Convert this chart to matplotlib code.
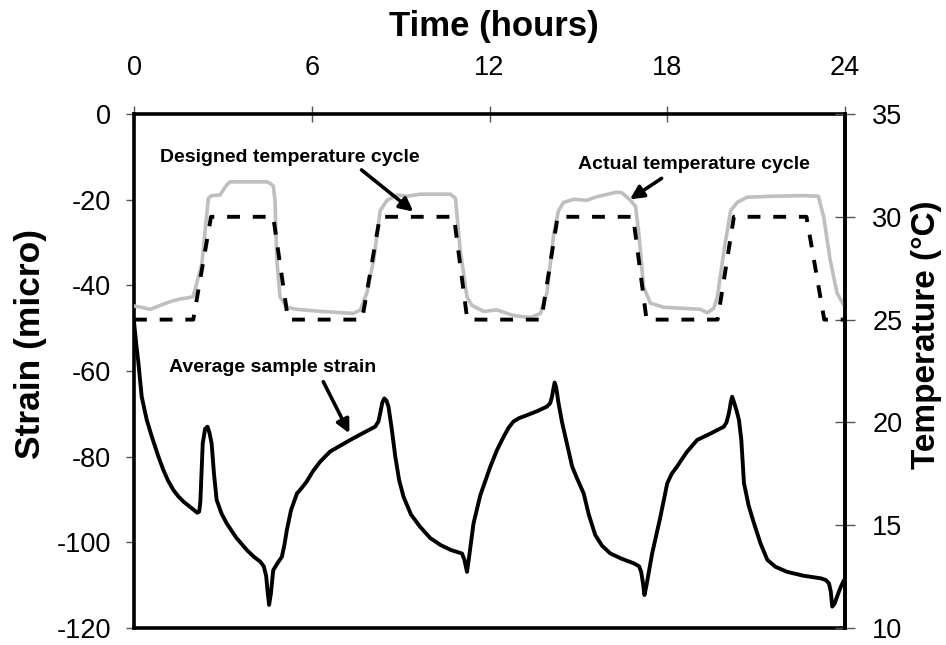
import matplotlib
matplotlib.use("Agg")
import matplotlib.pyplot as plt

plt.rcParams['font.family'] = ['Liberation Sans', 'DejaVu Sans']
plt.rcParams['axes.unicode_minus'] = False

# ---- data ----
time_ticks = [0, 6, 12, 18, 24]
strain_ticks = [0, -20, -40, -60, -80, -100, -120]
temp_ticks = [35, 30, 25, 20, 15, 10]

design_time = [0, 2.0, 2.6, 4.7, 5.2, 7.7, 8.3, 10.8, 11.25, 13.75, 14.3,
               16.85, 17.3, 19.7, 20.25, 22.7, 23.3, 24]
design_temp = [25, 25, 30, 30, 25, 25, 30, 30, 25, 25, 30, 30, 25, 25, 30, 30, 25, 25]

actual_time = [0.0, 0.25, 0.54, 0.9, 1.22, 1.55, 1.98, 2.03, 2.29, 2.51, 2.62, 2.9,
               3.13, 3.24, 4.48, 4.6, 4.7, 4.76, 4.82, 4.93, 5.16, 5.5, 6.28, 7.4, 7.64,
               7.86, 8.09, 8.31, 8.54, 8.88, 9.21, 9.66, 10.68, 10.85, 11.01, 11.24,
               11.4, 11.8, 12.25, 12.81, 13.38, 13.72, 13.94, 14.17, 14.33, 14.5,
               14.84, 15.29, 15.63, 16.3, 16.47, 16.76, 16.93, 17.04, 17.2, 17.43,
               17.88, 19.12, 19.35, 19.57, 19.69, 19.92, 20.14, 20.36, 20.7, 21.49,
               22.6, 23.1, 23.28, 23.5, 23.73, 23.96]
actual_temp = [25.66, 25.6, 25.5, 25.7, 25.87, 26.0, 26.1, 26.3, 27.7, 30.9, 31.03,
               31.06, 31.55, 31.7, 31.7, 31.62, 31.5, 30.8, 27.9, 26.1, 25.6, 25.5, 25.4,
               25.3, 25.47, 26.3, 27.9, 30.3, 30.8, 31.06, 31.0, 31.1, 31.1, 30.9,
               28.4, 26.1, 25.7, 25.4, 25.47, 25.2, 25.1, 25.3, 26.3, 29.2, 30.3,
               30.7, 30.85, 30.8, 30.98, 31.2, 31.17, 30.8, 30.5, 29.2, 26.6, 25.8,
               25.6, 25.5, 25.33, 25.55, 26.1, 28.4, 30.3, 30.7, 30.95, 31.0, 31.03,
               31.0, 30.0, 27.9, 26.3, 25.7]

strain_time = [0.0, 0.08, 0.15, 0.26, 0.43, 0.6, 0.8, 0.99, 1.15, 1.33, 1.5, 1.67,
               1.89, 2.05, 2.14, 2.2, 2.24, 2.28, 2.32, 2.4, 2.48, 2.55, 2.62, 2.7,
               2.79, 2.95, 3.13, 3.45, 3.81, 4.05, 4.26, 4.38, 4.46, 4.51, 4.56, 4.62,
               4.7, 4.85, 4.99, 5.08, 5.16, 5.3, 5.5, 5.65, 5.83, 6.05, 6.28, 6.62,
               7.0, 7.3, 7.7, 8.14, 8.25, 8.31, 8.38, 8.45, 8.52, 8.59, 8.7, 8.82,
               8.95, 9.1, 9.35, 9.66, 10.0, 10.34, 10.7, 11.07, 11.15, 11.24, 11.3,
               11.46, 11.69, 12.03, 12.25, 12.48, 12.65, 12.81, 13.0, 13.27, 13.6,
               13.94, 14.05, 14.11, 14.16, 14.2, 14.25, 14.33, 14.45, 14.61, 14.79,
               14.95, 15.18, 15.35, 15.57, 15.8, 16.08, 16.45, 16.87, 17.05, 17.12,
               17.18, 17.23, 17.3, 17.49, 17.77, 18.0, 18.15, 18.33, 18.65, 19.01,
               19.46, 19.91, 20.0, 20.08, 20.14, 20.19, 20.25, 20.35, 20.42, 20.5,
               20.59, 20.75, 20.93, 21.15, 21.38, 21.65, 22.05, 22.6, 23.18, 23.35,
               23.46, 23.52, 23.57, 23.65, 23.73, 23.85, 23.94, 24.0]
strain_val = [-48.5, -54.0, -58.2, -66.0, -71.4, -75.3, -79.5, -83.1, -85.6, -87.8,
              -89.3, -90.5, -91.7, -92.6, -93.1, -92.8, -90.5, -84.0, -76.9, -73.5,
              -73.0, -74.5, -76.9, -84.0, -90.1, -93.2, -95.6, -98.9, -101.8, -103.4,
              -104.5, -105.6, -107.8, -111.5, -114.6, -112.0, -106.5, -104.8, -103.4,
              -100.5, -97.1, -92.5, -88.6, -87.4, -85.8, -83.3, -81.2, -78.8, -77.3,
              -76.1, -74.6, -73.0, -71.8, -69.9, -67.4, -66.4, -66.9, -68.3, -73.5,
              -80.0, -85.5, -89.4, -93.5, -96.4, -99.0, -100.6, -101.8, -102.6, -104.0,
              -106.9, -104.0, -95.6, -89.0, -82.3, -78.5, -75.3, -73.2, -71.8, -71.0,
              -70.3, -69.4, -68.3, -67.5, -66.0, -64.0, -62.7, -63.8, -67.5, -72.0,
              -76.9, -82.3, -85.0, -88.6, -93.5, -98.3, -100.8, -102.6, -103.8, -104.9,
              -105.6, -106.9, -109.5, -112.3, -110.0, -102.6, -94.0, -86.2, -84.0,
              -82.3, -79.0, -76.1, -74.6, -73.0, -72.0, -69.9, -67.5, -66.0, -67.2,
              -69.5, -71.4, -76.1, -86.2, -91.5, -95.6, -100.3, -104.1, -105.7,
              -106.9, -107.8, -108.4, -108.8, -109.6, -111.5, -115.0, -114.3, -112.7,
              -110.5, -109.2, -108.5]

# ---- figure ----
fig = plt.figure(figsize=(9.46, 6.45), dpi=100)
ax = fig.add_axes([134/946, 1-628/645, 711/946, 514/645])
ax2 = ax.twinx()

ax.plot(strain_time, strain_val, color='black', lw=2.8,
        solid_joinstyle='round', solid_capstyle='round', zorder=3)
ax2.plot(actual_time, actual_temp, color='#BFBFBF', lw=2.6,
         solid_joinstyle='round', zorder=2)
ax2.plot(design_time, design_temp, color='black', lw=2.8,
         linestyle=(0, (3.3, 3.3)), zorder=3)

ax.set_xlim(0, 24)
ax.set_ylim(-120, 0)
ax2.set_ylim(10, 35)

ax.set_xticks(time_ticks)
ax.set_yticks(strain_ticks)
ax2.set_yticks(temp_ticks)

tick_col = '#555555'
ax.xaxis.set_ticks_position('top')
ax.xaxis.set_label_position('top')
ax.tick_params(axis='x', which='both', direction='inout', length=11, width=1,
               color=tick_col, pad=18, labelsize=19.5, labelcolor='black')
ax.tick_params(axis='y', direction='out', length=6, width=1, color=tick_col,
               pad=10.5, labelsize=19.5)
ax2.tick_params(axis='y', direction='inout', length=14.4, width=1, color=tick_col,
                pad=12.5, labelsize=19.5)

for sp in ax.spines.values():
    sp.set_linewidth(2.6)
    sp.set_color('black')
for sp in ax2.spines.values():
    sp.set_visible(False)
ax2.spines['right'].set_visible(True)
ax2.spines['right'].set_linewidth(2.6)

ax.set_xlabel('Time (hours)', fontsize=25, fontweight='bold')
ax.xaxis.set_label_coords((493.5-134)/711, (628-36)/514)
ax.set_ylabel('Strain (micro)', fontsize=25.5, fontweight='bold')
ax.yaxis.set_label_coords((47-134)/711, (628-344)/514)
ax2.set_ylabel('Temperature (°C)', fontsize=24, fontweight='bold')
ax2.yaxis.set_label_coords((911-134)/711, (628-335)/514)

arrow = dict(arrowstyle='-|>', color='black', lw=2.6, mutation_scale=20,
             shrinkA=0, shrinkB=0)
ax2.text(5.26, 32.9, 'Designed temperature cycle', fontsize=14,
         fontweight='bold', ha='center', va='center')
ax2.annotate('', xy=(9.43, 30.25), xytext=(7.68, 32.28), arrowprops=arrow)
ax2.text(18.9, 32.52, 'Actual temperature cycle', fontsize=14,
         fontweight='bold', ha='center', va='center')
ax2.annotate('', xy=(16.74, 30.85), xytext=(17.81, 31.87), arrowprops=arrow)
ax.text(4.69, -59.07, 'Average sample strain', fontsize=14,
        fontweight='bold', ha='center', va='center')
ax.annotate('', xy=(7.27, -74.55), xytext=(6.39, -62.5), arrowprops=arrow)

fig.savefig('out.png', dpi=100)
